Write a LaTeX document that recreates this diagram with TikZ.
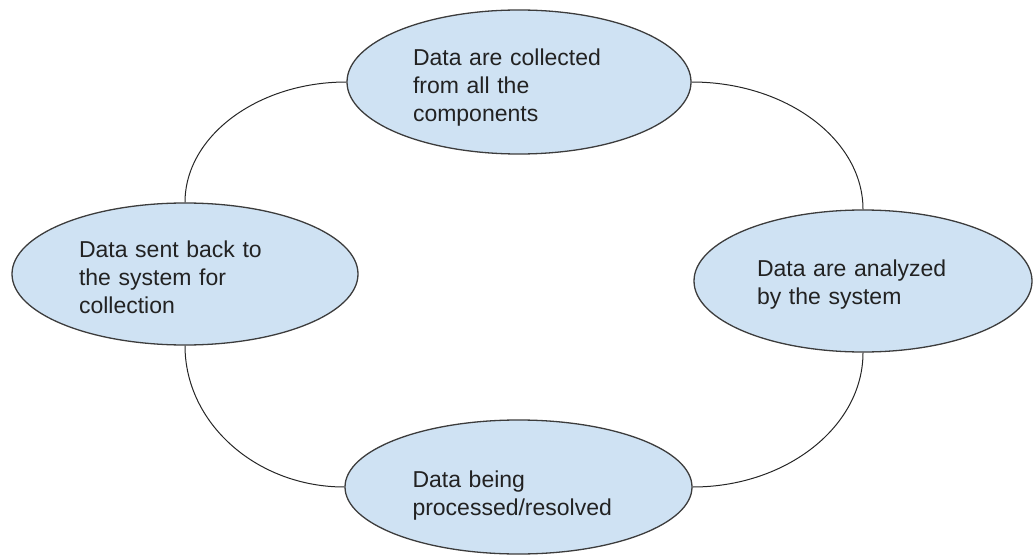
\documentclass[tikz,border=0pt]{standalone}
\usepackage{fontspec}
\setmainfont{Liberation Sans}
\usetikzlibrary{shapes.geometric,calc}
\definecolor{fillblue}{HTML}{CFE2F3}
\definecolor{edgegray}{HTML}{3C3C3C}
\definecolor{txt}{HTML}{222222}
\newcommand{\lowerby}[1]{\rule{0pt}{#1}}
\begin{document}
\begin{tikzpicture}[x=1pt,y=-1pt,
  stage/.style={ellipse,draw=edgegray,line width=1.3pt,fill=fillblue,
    inner sep=0pt,text width=212pt,align=left,text=txt,
    font=\fontsize{23}{28}\selectfont},
  link/.style={draw=black!85,line width=1pt}]
\useasboundingbox (0,0) rectangle (1033,556);
\node[stage,minimum width=344pt,minimum height=144pt] (top) at (519,82)
  {\lowerby{27pt}Data are collected\\from all the\\components};
\node[stage,minimum width=346pt,minimum height=142pt] (left) at (185,274)
  {\lowerby{23pt}Data sent back to\\the system for\\collection};
\node[stage,minimum width=338pt,minimum height=142pt] (right) at (863,281)
  {\lowerby{23pt}Data are analyzed\\by the system};
\node[stage,minimum width=347pt,minimum height=134pt] (bottom) at (518.5,487)
  {\lowerby{33pt}Data being\\processed/resolved};
\path (top.west -| left.north) coordinate (c1)
      (top.east -| right.north) coordinate (c2)
      (left.south |- bottom.west) coordinate (c3)
      (right.south |- bottom.east) coordinate (c4);
\draw[link] (top.west) .. controls ($(top.west)!0.55!(c1)$) and ($(left.north)!0.55!(c1)$) .. (left.north);
\draw[link] (top.east) .. controls ($(top.east)!0.55!(c2)$) and ($(right.north)!0.55!(c2)$) .. (right.north);
\draw[link] (left.south) .. controls ($(left.south)!0.55!(c3)$) and ($(bottom.west)!0.55!(c3)$) .. (bottom.west);
\draw[link] (right.south) .. controls ($(right.south)!0.55!(c4)$) and ($(bottom.east)!0.55!(c4)$) .. (bottom.east);
\end{tikzpicture}
\end{document}
